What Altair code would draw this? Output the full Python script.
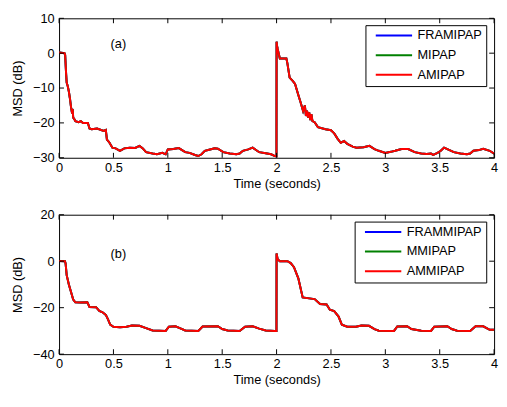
import altair as alt
import pandas as pd

# ---------------- data ----------------
T_A = [0, 0.05, 0.056, 0.065, 0.07, 0.08, 0.09, 0.1, 0.11, 0.116, 0.125, 0.13, 0.14, 0.15, 0.18, 0.2,
       0.22, 0.265, 0.28, 0.3, 0.35, 0.41, 0.43, 0.44, 0.46, 0.49, 0.52, 0.56, 0.6, 0.65, 0.7, 0.74,
       0.77, 0.8, 0.86, 0.9, 0.95, 0.98, 1.0, 1.05, 1.1, 1.12, 1.16, 1.2, 1.25, 1.28, 1.31, 1.34, 1.38,
       1.43, 1.46, 1.51, 1.57, 1.63, 1.66, 1.69, 1.74, 1.78, 1.84, 1.9, 1.95, 1.985, 1.999, 2.0, 2.005,
       2.01, 2.03, 2.09, 2.1, 2.12, 2.15, 2.17, 2.2, 2.22, 2.244, 2.26, 2.27, 2.28, 2.29, 2.3, 2.31,
       2.32, 2.33, 2.35, 2.38, 2.45, 2.5, 2.53, 2.56, 2.59, 2.62, 2.65, 2.7, 2.735, 2.8, 2.854, 2.9,
       2.94, 3.0, 3.05, 3.09, 3.15, 3.21, 3.27, 3.33, 3.38, 3.42, 3.44, 3.48, 3.51, 3.54, 3.57, 3.63,
       3.69, 3.75, 3.78, 3.81, 3.86, 3.9, 3.96, 4.0]
AMIPAP = [0.2, 0, -0.5, -6, -8.4, -9.5, -11, -13, -15.5, -16.6, -16, -18.5, -18.9, -19.5, -19.8, -19.5,
          -20, -20, -21.6, -21.8, -21.6, -22.3, -22, -24.8, -25.5, -27.1, -27.3, -28, -27.3, -27.1, -27.2, -26.6,
          -27.3, -28.4, -28.8, -29, -28.6, -29, -27.6, -27.5, -27.2, -27.6, -28.4, -28.6, -29.2, -29.5, -29, -28, -27.7,
          -27.3, -27.4, -28.4, -28.8, -29, -28.8, -28, -27.6, -27.1, -28.4, -28.7, -29, -29.5, -29.6, 3.3, 2,
          1.2, -1.5, -1.5, -3, -7, -8, -8.8, -12, -14, -16.6, -15, -18, -16.5, -18.5, -17, -19.2,
          -17.5, -19.5, -19.8, -21.2, -21.8, -22.1, -23, -24.5, -25.7, -25.2, -26, -26.8, -27.1, -27, -26.6, -27.5,
          -28, -28.6, -28.3, -28, -27.5, -27.5, -28.4, -28.8, -28.9, -28.8, -29.2, -28.6, -28, -27.1, -27.5, -28.4,
          -28.8, -29, -28.8, -28, -27.8, -27.4, -28, -28.8]
FRAMIPAP = list(AMIPAP)
MIPAP = list(AMIPAP)

T_B = [0, 0.054, 0.06, 0.07, 0.09, 0.116, 0.13, 0.15, 0.2, 0.26, 0.28, 0.34, 0.37, 0.4, 0.43, 0.45, 0.47,
       0.5, 0.56, 0.62, 0.67, 0.74, 0.8, 0.86, 0.98, 1.01, 1.07, 1.11, 1.16, 1.28, 1.32, 1.46, 1.5, 1.55,
       1.66, 1.71, 1.78, 1.84, 1.9, 1.985, 1.999, 2.0, 2.01, 2.03, 2.1, 2.13, 2.16, 2.2, 2.24, 2.3, 2.35,
       2.4, 2.46, 2.49, 2.53, 2.57, 2.6, 2.65, 2.73, 2.78, 2.85, 2.9, 2.94, 3.08, 3.11, 3.2, 3.24, 3.33,
       3.42, 3.45, 3.57, 3.61, 3.66, 3.78, 3.83, 3.9, 3.96, 4.0]
AMMIPAP = [0.1, 0, -1, -6, -10, -14.2, -16.5, -17.7, -17.8, -17.7, -19.7, -19.8, -21.4, -22, -23.1, -25, -27.3,
           -28.2, -28.4, -28.2, -27.7, -27.8, -28.8, -29.8, -30, -28.2, -28, -28.8, -29.8, -30, -28.1, -28, -29.2, -29.8,
           -30, -28.2, -28, -29, -29.8, -30, -30, 3.3, 0.8, 0, 0, -0.8, -2.6, -7.4, -15.6, -16, -16.3,
           -18.4, -18.6, -20.9, -21.5, -23.8, -27.3, -28.2, -28.2, -27.7, -27.8, -29.2, -29.9, -30, -28.1, -28, -29.2, -29.9,
           -30, -28.2, -28, -29.2, -29.9, -30, -28, -28, -29.5, -29.5]
FRAMMIPAP = list(AMMIPAP)
MMIPAP = list(AMMIPAP)

NAMES_A = ["FRAMIPAP", "MIPAP", "AMIPAP"]
NAMES_B = ["FRAMMIPAP", "MMIPAP", "AMMIPAP"]
COLORS = ["#0000ff", "#008000", "#ff0000"]

X_TICKS = [0, 0.5, 1, 1.5, 2, 2.5, 3, 3.5, 4]
Y_TICKS_A = [10, 0, -10, -20, -30]
Y_TICKS_B = [20, 0, -20, -40]
Y_DOMAIN_A = [-30, 10]
Y_DOMAIN_B = [-40, 20]
LABEL_A = {"t": 0.545, "v": 2.6, "txt": "(a)"}
LABEL_B = {"t": 0.545, "v": 3.1, "txt": "(b)"}

W, H = 443, 142
FONT = "Liberation Sans"
# legend line glyph: a flat stroke drawn to the right of the symbol cell centre
LEGEND_GLYPH = "M0,0H7.4"


def panel(t, series, names, yticks, ydomain, label, legend_x, legend_y):
    rows = []
    for order, (name, vals) in enumerate(zip(names, series)):
        for ti, v in zip(t, vals):
            rows.append({"t": ti, "v": v, "s": name, "o": order})
    df = pd.DataFrame(rows)

    xs = alt.Scale(domain=[0, 4], nice=False, zero=False)
    ys = alt.Scale(domain=ydomain, nice=False, zero=False)

    x_axis = alt.Axis(values=X_TICKS, format="~g", title="Time (seconds)", ticks=False, tickSize=0,
                      domain=False, grid=False, labelFontSize=13, labelFont=FONT, labelColor="black",
                      labelPadding=4, titleFont=FONT, titleFontSize=13, titleFontWeight="normal",
                      titleColor="black", titlePadding=3, labelFlush=False, labelOverlap=False)
    y_axis = alt.Axis(values=yticks, format="d", title="MSD (dB)", ticks=False, tickSize=0, domain=False,
                      grid=False, labelFontSize=13, labelFont=FONT, labelColor="black", labelPadding=5,
                      titleFont=FONT, titleFontSize=13, titleFontWeight="normal", titleColor="black",
                      titlePadding=8, labelFlush=False, labelOverlap=False)

    lines = alt.Chart(df).mark_line(strokeWidth=2, interpolate="linear").encode(
        x=alt.X("t:Q", scale=xs, axis=x_axis),
        y=alt.Y("v:Q", scale=ys, axis=y_axis),
        color=alt.Color("s:N", scale=alt.Scale(domain=names, range=COLORS),
                        legend=alt.Legend(orient="none", legendX=legend_x, legendY=legend_y, title=None,
                                          symbolType=LEGEND_GLYPH, symbolSize=100, symbolStrokeWidth=2,
                                          labelFontSize=13, labelFont=FONT, labelColor="black",
                                          strokeColor="black", fillColor="white", padding=4,
                                          rowPadding=6, labelOffset=36, cornerRadius=0)),
        order=alt.Order("o:Q"),
        detail="s:N",
    )

    xt = pd.DataFrame({"t": X_TICKS})
    yt = pd.DataFrame({"v": yticks})
    tick_style = dict(color="black", strokeWidth=1)
    xtick_bot = alt.Chart(xt).mark_rule(**tick_style).encode(
        x=alt.X("t:Q", scale=xs, axis=x_axis), y=alt.value(H - 5), y2=alt.value(H))
    xtick_top = alt.Chart(xt).mark_rule(**tick_style).encode(
        x=alt.X("t:Q", scale=xs, axis=x_axis), y=alt.value(0), y2=alt.value(5))
    ytick_l = alt.Chart(yt).mark_rule(**tick_style).encode(
        y=alt.Y("v:Q", scale=ys, axis=y_axis), x=alt.value(0), x2=alt.value(5))
    ytick_r = alt.Chart(yt).mark_rule(**tick_style).encode(
        y=alt.Y("v:Q", scale=ys, axis=y_axis), x=alt.value(W - 5), x2=alt.value(W))

    txt = alt.Chart(pd.DataFrame([label])).mark_text(fontSize=13, font=FONT, color="black").encode(
        x=alt.X("t:Q", scale=xs, axis=x_axis), y=alt.Y("v:Q", scale=ys, axis=y_axis), text="txt:N")

    return alt.layer(lines, xtick_bot, xtick_top, ytick_l, ytick_r, txt).properties(width=W, height=H)


top = panel(T_A, [FRAMIPAP, MIPAP, AMIPAP], NAMES_A, Y_TICKS_A, Y_DOMAIN_A, LABEL_A, 312, 7)
bot = panel(T_B, [FRAMMIPAP, MMIPAP, AMMIPAP], NAMES_B, Y_TICKS_B, Y_DOMAIN_B, LABEL_B, 301, 7)

chart = alt.vconcat(top, bot, spacing=58, bounds="flush").resolve_scale(
    color="independent").properties(
    padding={"left": 3, "top": 0, "right": 0, "bottom": 0},
    background="white",
).configure_view(stroke="black", strokeWidth=1)

chart.save("out.html", embed_options={"renderer": "svg", "actions": False})
